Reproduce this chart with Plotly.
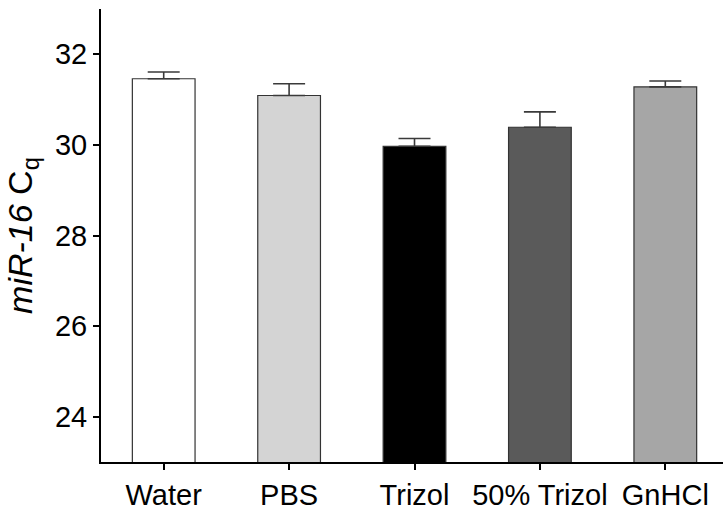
import plotly.graph_objects as go

categories = ["Water", "PBS", "Trizol", "50% Trizol", "GnHCl"]
cq_mean = [31.46, 31.09, 29.97, 30.39, 31.28]
cq_err = [0.15, 0.26, 0.17, 0.34, 0.13]
bar_colors = ["#ffffff", "#d4d4d4", "#000000", "#5a5a5a", "#a6a6a6"]
y_ticks = [24, 26, 28, 30, 32]

fig = go.Figure()
fig.add_trace(go.Bar(
    x=categories,
    y=cq_mean,
    width=0.5,
    marker=dict(color=bar_colors, line=dict(color="#333333", width=1.2)),
    error_y=dict(type="data", array=cq_err, arrayminus=[0]*len(cq_err),
                 symmetric=False, color="#3a3a3a", thickness=1.6, width=16),
))

font_family = "Liberation Sans, Arial, sans-serif"
fig.update_layout(
    width=723, height=512, autosize=False,
    margin=dict(l=101, r=0, t=9, b=50),
    plot_bgcolor="white", paper_bgcolor="white",
    showlegend=False,
    font=dict(family=font_family, color="black", size=29),
    xaxis=dict(
        type="category", range=[-0.5, 4.46],
        showline=True, linecolor="black", linewidth=2,
        ticks="outside", ticklen=6, tickwidth=1.5, tickcolor="black",
        showgrid=False, zeroline=False,
        tickfont=dict(size=29, family=font_family),
    ),
    yaxis=dict(
        range=[23, 33], tickvals=y_ticks,
        showline=True, linecolor="black", linewidth=2,
        ticks="outside", ticklen=6, tickwidth=1.5, tickcolor="black",
        showgrid=False, zeroline=False,
        tickfont=dict(size=29, family=font_family),
        title=dict(text="<i>miR-16</i> C<sub>q</sub>",
                   font=dict(size=34, family=font_family), standoff=12),
    ),
)

fig.write_html("out.html")
